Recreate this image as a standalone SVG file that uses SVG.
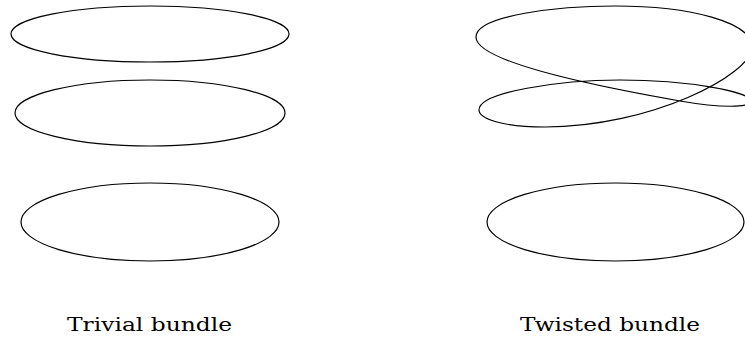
<svg xmlns="http://www.w3.org/2000/svg" width="745" height="337" viewBox="0 0 745 337">
<style>
.c{fill:none;stroke:#000;stroke-width:1.2}
.t{font-family:"DejaVu Serif","Liberation Serif",serif;font-size:19px;fill:#000}
</style>
<rect width="745" height="337" fill="#fff"/>
<g id="trivial">
<ellipse class="c" cx="150" cy="34" rx="139" ry="28"/>
<ellipse class="c" cx="150" cy="113" rx="135" ry="33"/>
<ellipse class="c" cx="150" cy="222" rx="129" ry="39"/>
<text class="t" x="67" y="331" textLength="165" lengthAdjust="spacingAndGlyphs">Trivial bundle</text>
</g>
<g id="twisted">
<path class="c" d="M476 37 C476 15 560 6 615 6 C690 6 752 22 752 47 C752 75 650 127 545 127 C500 127 479 118 479 110 C479 92 560 80 620 80 C690 80 750 92 751 101 C752 108 720 108 680 101 C600 87 476 62 476 37 Z"/>
<ellipse class="c" cx="615.5" cy="222" rx="128.5" ry="39"/>
<text class="t" x="520" y="331" textLength="180" lengthAdjust="spacingAndGlyphs">Twisted bundle</text>
</g>
</svg>
